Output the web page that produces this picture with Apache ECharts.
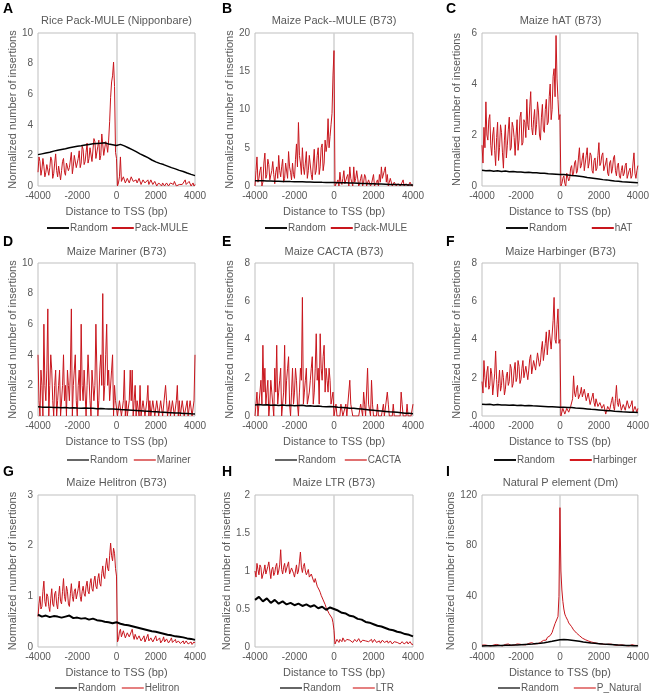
<!DOCTYPE html>
<html>
<head>
<meta charset="utf-8">
<script src="https://cdn.jsdelivr.net/npm/echarts@6/dist/echarts.min.js"></script>
<style>html,body{margin:0;padding:0;background:#fff}#c{width:652px;height:696px}</style>
</head>
<body>
<div id="c"></div>
<script>
// bin positions (bp), 50 bp bins for TE series, 200 bp for Random
const xRed = [
-4000,-3950,-3900,-3850,-3800,-3750,-3700,-3650,-3600,-3550,-3500,-3450,-3400,-3350,-3300,-3250,-3200,-3150,-3100,-3050,
-3000,-2950,-2900,-2850,-2800,-2750,-2700,-2650,-2600,-2550,-2500,-2450,-2400,-2350,-2300,-2250,-2200,-2150,-2100,-2050,
-2000,-1950,-1900,-1850,-1800,-1750,-1700,-1650,-1600,-1550,-1500,-1450,-1400,-1350,-1300,-1250,-1200,-1150,-1100,-1050,
-1000,-950,-900,-850,-800,-750,-700,-650,-600,-550,-500,-450,-400,-350,-300,-250,-200,-150,-100,-50,
0,50,100,150,200,250,300,350,400,450,500,550,600,650,700,750,800,850,900,950,
1000,1050,1100,1150,1200,1250,1300,1350,1400,1450,1500,1550,1600,1650,1700,1750,1800,1850,1900,1950,
2000,2050,2100,2150,2200,2250,2300,2350,2400,2450,2500,2550,2600,2650,2700,2750,2800,2850,2900,2950,
3000,3050,3100,3150,3200,3250,3300,3350,3400,3450,3500,3550,3600,3650,3700,3750,3800,3850,3900,3950,
4000];
const xBlack = [-4000,-3800,-3600,-3400,-3200,-3000,-2800,-2600,-2400,-2200,-2000,-1800,-1600,-1400,-1200,-1000,-800,-600,-400,-200,0,200,400,600,800,1000,1200,1400,1600,1800,2000,2200,2400,2600,2800,3000,3200,3400,3600,3800,4000];

// A Rice Pack-MULE (Nipponbare)
const redA = [
0.9,1.9,1.6,0.7,1.1,1.8,1.3,0.6,0.9,1.4, 1.5,0.7,1.2,1.9,1.7,0.5,0.8,1.5,2.1,1.0,
0.6,1.3,1.4,0.4,1.0,1.6,1.8,0.9,0.7,1.5, 1.6,1.0,1.2,1.7,2.2,0.8,1.3,2.0,1.9,1.2,
1.1,1.8,2.3,1.2,1.5,2.6,2.4,1.4,1.6,2.2, 2.8,1.5,1.8,2.5,2.6,1.6,1.7,3.1,2.9,1.8,
1.9,2.6,3.0,1.7,2.0,3.4,3.5,2.0,2.1,2.9, 2.7,2.2,3.0,4.2,5.8,6.8,7.2,8.1,6.5,2.2,
1.8,0.0,0.2,0.6,1.9,0.3,0.3,0.6,0.5,0.2, 0.2,0.5,0.5,0.2,0.3,0.6,0.5,0.3,0.2,0.4,
0.4,0.2,0.3,0.5,0.5,0.1,0.2,0.4,0.4,0.2, 0.1,0.3,0.4,0.1,0.2,0.4,0.3,0.1,0.1,0.3,
0.2,0.0,0.1,0.2,0.3,0.1,0.0,0.2,0.2,0.0, 0.1,0.2,0.3,0.0,0.0,0.2,0.2,0.1,0.1,0.3,
0.2,0.0,0.0,0.1,0.1,0.0,0.2,0.1,0.0,0.2, 0.4,0.1,0.1,0.0,0.3,0.2,0.0,0.1,0.2,0.0,
0.1];
const blackA = [2.05,2.1,2.15,2.2,2.28,2.33,2.38,2.43,2.5,2.55, 2.6,2.63,2.68,2.72,2.76,2.78,2.8,2.82,2.75,2.7, 2.65,
  2.72,2.62,2.5,2.38,2.25,2.1,1.98,1.85,1.7,1.58, 1.48,1.4,1.3,1.2,1.12,1.02,0.95,0.85,0.76,0.68];

// B Maize Pack-MULE
const redB = [
0,2.0,3.8,0.5,1.0,2.0,2.5,0.0,0.5,3.0, 4.3,1.0,1.5,3.5,2.8,0.8,1.0,2.0,3.2,1.5,
0.3,1.8,2.5,1.0,4.0,2.0,1.2,2.5,3.5,0.5, 1.0,3.0,2.8,1.0,4.5,2.5,1.8,0.8,3.0,1.5,
1.0,3.5,5.5,2.5,8.3,4.0,3.0,1.5,5.0,2.5, 1.5,3.0,4.5,1.0,2.0,4.0,3.8,1.5,0.8,3.0,
4.8,1.5,2.0,4.0,5.0,1.5,2.5,5.0,5.5,2.0, 3.0,6.0,4.5,5.5,8.8,5.0,6.5,8.0,9.5,14.5,
17.7,0.0,0.0,0.5,0.8,0.0,1.8,0.5,0.2,1.0, 2.0,0.3,0.5,1.2,1.5,0.0,2.5,1.0,0.8,0.0,
2.5,0.5,1.0,2.0,2.0,0.0,0.3,1.0,1.5,0.0, 0.5,1.5,1.2,0.0,0.0,0.8,1.0,0.0,0.3,0.5,
1.5,0.0,0.0,0.5,0.8,0.0,1.5,0.5,2.5,1.0, 1.0,2.0,2.5,0.5,1.5,0.0,0.5,1.0,1.2,0.0,
0.0,0.5,0.5,0.0,0.0,0.3,0.5,0.0,0.0,0.5, 0.8,0.0,0.0,0.3,0.5,0.0,0.0,0.5,0.3,0.0,
0.0];
const blackB = [0.7,0.7,0.68,0.66,0.65,0.63,0.62,0.6,0.6,0.58, 0.57,0.55,0.55,0.53,0.52,0.5,0.5,0.48,0.47,0.46, 0.45,
  0.44,0.43,0.42,0.4,0.38,0.36,0.34,0.32,0.3,0.28, 0.26,0.25,0.23,0.21,0.2,0.18,0.16,0.15,0.13,0.12];

// C Maize hAT
const redC = [
1.6,0.9,2.3,1.5,3.3,2.0,1.8,2.6,2.8,1.6, 1.2,2.0,2.3,1.4,0.8,1.9,2.5,1.0,1.5,2.4,
2.1,1.3,0.7,1.8,2.4,1.1,1.6,2.2,2.7,1.4, 1.5,2.5,2.3,1.9,1.2,2.0,2.6,1.4,1.8,2.7,
2.9,1.6,1.7,2.6,2.5,1.9,3.4,2.4,2.2,3.1, 3.7,2.3,2.0,2.6,3.0,2.0,2.4,3.3,2.9,2.0,
1.8,2.7,3.2,2.2,2.1,3.0,3.4,2.4,2.5,3.5, 4.0,2.6,3.0,4.3,4.6,3.5,5.9,4.2,3.4,2.6,
2.8,0.0,0.1,0.3,0.4,0.1,0.0,0.5,0.5,0.2, 0.3,0.7,0.8,0.4,0.5,0.9,1.0,0.5,0.6,1.1,
1.5,0.7,0.8,1.1,1.3,0.6,0.6,1.2,1.5,0.7, 0.9,1.3,1.2,0.6,0.5,1.0,1.1,0.6,0.7,1.2,
1.7,0.8,0.9,1.2,1.3,0.6,0.6,0.9,1.1,0.5, 0.4,0.9,1.0,0.5,0.7,1.1,1.2,0.6,0.4,0.8,
0.9,0.4,0.3,0.6,0.8,0.4,0.5,0.8,0.9,0.3, 0.3,0.6,0.7,0.3,0.4,0.9,1.3,0.5,0.3,0.6,
0.8];
const blackC = [0.62,0.6,0.61,0.58,0.6,0.57,0.59,0.56,0.57,0.55, 0.55,0.53,0.54,0.52,0.52,0.5,0.5,0.48,0.47,0.46, 0.45,
  0.45,0.43,0.41,0.4,0.38,0.36,0.33,0.31,0.29,0.27, 0.25,0.24,0.22,0.2,0.19,0.17,0.16,0.15,0.14,0.13];

// D Maize Mariner
const redD = [
4,1,0,3,2,0,6,2,1,3, 7,0,2,4,3,1,0,2,3,0,
1,2,3,0,0,2,4,1,2,0, 3,2,1,3,7,0,2,3,4,1,
0,2,3,1,6,2,1,3,3,0, 2,4,4,1,0,3,3,1,2,6,
6,0,1,3,4,2,8,1,2,4, 6,2,3,1,1,3,4,0,2,1,
1,0,0,1,1,0,0,1,3,0, 1,0,0,1,3,1,3,0,1,2,
0,1,1,0,2,0,0,1,1,0, 0,1,2,0,1,0,0,1,1,0,
0,1,1,0,0,1,1,0,0,0, 2,1,0,0,1,0,0,1,1,0,
0,1,2,0,1,0,0,1,1,0, 0,0,1,0,0,1,1,0,0,1,
4];
const blackD = [0.6,0.58,0.57,0.58,0.55,0.56,0.54,0.55,0.53,0.54, 0.52,0.51,0.52,0.5,0.5,0.48,0.49,0.47,0.46,0.45, 0.44,
  0.42,0.41,0.4,0.38,0.36,0.34,0.32,0.31,0.29,0.28, 0.26,0.25,0.23,0.22,0.2,0.19,0.17,0.16,0.14,0.13];

// E Maize CACTA
const redE = [
0,0.62,1.25,0,0.62,1.25,1.87,0.62,3.7,1.25, 2.5,0.62,1.25,1.87,0,0.62,1.87,1.25,0.62,0,
2.5,1.25,3.7,0.62,1.25,1.87,2.5,0,0.62,1.25, 3.7,0.62,1.87,2.5,3.1,0.62,0,1.25,2.5,0.62,
1.25,2.5,1.87,0.62,0,1.25,2.5,1.87,6.2,0.62, 1.25,1.87,2.5,0.62,0.62,1.25,1.87,2.5,3.1,0.62,
1.25,2.5,4.3,1.87,2.5,0.62,4.3,2.5,1.87,3.1, 3.7,1.25,2.5,1.87,1.25,2.5,1.87,0.62,0.62,1.25,
0,0,0.62,0,0,0,0,0.62,0.62,0, 0,0,0.62,0,0,0,1.87,0.62,0.62,0,
0,0,0,0,0,0,0,0.62,0.62,0, 1.25,0.62,0,0,2.5,0.62,0.62,0,1.87,0.62,
0,0,0,0,0.62,0,0,0,0,0, 0.62,0,0,0,1.25,0.62,0,0,0,0,
0.62,0,0,0,0,0,0,0,1.25,0.62, 0,0,0,0,0.62,0,0,0,0,0,
0.62];
const blackE = [0.58,0.6,0.57,0.59,0.56,0.58,0.55,0.57,0.55,0.56, 0.54,0.55,0.56,0.52,0.53,0.51,0.52,0.5,0.49,0.5, 0.48,
  0.46,0.45,0.43,0.41,0.4,0.38,0.36,0.34,0.32,0.3, 0.28,0.26,0.24,0.22,0.21,0.19,0.17,0.15,0.14,0.12];

// F Maize Harbinger
const redF = [
1.8,1.2,2.9,2.0,1.5,2.3,2.6,1.4,1.6,2.5, 2.2,1.1,1.2,2.2,3.4,1.9,1.0,1.7,2.4,1.3,
1.6,2.4,2.0,1.1,1.4,2.1,2.3,1.6,1.8,2.7, 2.5,1.5,1.7,2.4,2.8,1.8,2.0,2.9,2.6,1.7,
1.9,2.5,2.9,2.0,2.1,2.6,2.7,1.9,2.4,3.0, 3.2,2.2,2.3,2.9,3.0,2.4,2.5,3.3,3.4,2.6,
2.8,3.5,3.9,2.9,3.0,3.8,4.4,3.2,3.3,4.5, 4.6,3.5,3.6,5.0,6.2,4.0,3.8,4.8,5.6,3.8,
4.0,0.0,0.1,0.4,0.3,0.1,0.1,0.4,0.5,0.2, 0.3,0.5,0.6,0.9,2.1,1.2,1.0,1.4,1.6,0.9,
0.8,1.2,1.5,1.0,0.9,1.4,1.3,0.8,0.7,1.2, 1.1,0.6,0.6,1.0,1.2,0.7,0.5,0.9,1.0,0.5,
0.4,0.7,0.8,0.4,0.3,0.6,0.7,0.1,0.2,0.5, 0.6,0.3,0.4,0.8,1.0,0.5,0.3,0.9,1.6,0.7,
0.5,0.9,0.8,0.3,0.2,0.6,0.7,0.3,0.4,0.8, 0.9,0.4,0.3,0.6,0.8,0.2,0.2,0.5,0.6,0.2,
0.4];
const blackF = [0.62,0.6,0.61,0.58,0.6,0.57,0.58,0.56,0.57,0.55, 0.56,0.54,0.55,0.53,0.52,0.51,0.5,0.49,0.48,0.47, 0.46,
  0.46,0.45,0.44,0.42,0.41,0.39,0.37,0.35,0.34,0.32, 0.3,0.28,0.27,0.25,0.24,0.22,0.21,0.2,0.19,0.18];

// G Maize Helitron
const redG = [
0.6,0.85,1.0,0.75,0.8,1.1,1.3,0.9,0.8,1.05, 1.0,0.8,0.7,0.95,1.15,0.85,0.8,1.05,1.1,0.85,
0.75,1.0,1.2,0.9,0.85,1.1,1.35,1.0,0.9,1.2, 1.1,0.85,0.8,1.05,1.25,1.0,0.9,1.1,1.15,0.95,
0.95,1.15,1.3,1.0,0.9,1.1,1.2,1.05,1.0,1.2, 1.3,1.1,1.05,1.25,1.35,1.15,1.1,1.3,1.4,1.2,
1.15,1.35,1.45,1.25,1.2,1.45,1.6,1.4,1.35,1.6, 1.75,1.55,1.5,1.8,2.05,1.8,1.7,1.95,1.85,1.55,
1.4,0.1,0.15,0.3,0.35,0.2,0.2,0.32,0.3,0.18, 0.15,0.28,0.3,0.2,0.2,0.3,0.35,0.22,0.15,0.25,
0.28,0.15,0.12,0.22,0.25,0.12,0.1,0.18,0.22,0.1, 0.12,0.2,0.25,0.12,0.1,0.18,0.2,0.1,0.08,0.18,
0.22,0.12,0.1,0.15,0.18,0.08,0.07,0.14,0.2,0.1, 0.1,0.16,0.15,0.08,0.08,0.14,0.18,0.09,0.06,0.12,
0.15,0.08,0.1,0.12,0.13,0.07,0.05,0.1,0.12,0.06, 0.08,0.12,0.14,0.06,0.04,0.08,0.1,0.05,0.06,0.1,
0.08];
const blackG = [0.64,0.6,0.62,0.59,0.61,0.6,0.58,0.6,0.62,0.57, 0.58,0.56,0.57,0.54,0.56,0.53,0.52,0.5,0.49,0.47, 0.49,
  0.46,0.44,0.43,0.41,0.39,0.37,0.35,0.33,0.31,0.3, 0.28,0.26,0.24,0.23,0.21,0.2,0.19,0.17,0.16,0.14];

// H Maize LTR
const redH = [
1.0,0.92,1.1,1.02,0.95,1.08,1.05,0.9,0.88,1.0, 1.08,0.96,0.95,1.06,1.12,1.0,0.9,1.02,1.05,0.94,
0.98,1.06,1.1,0.95,1.0,1.08,1.28,1.02,0.96,1.05, 1.1,0.98,0.98,1.08,1.12,0.96,0.95,1.04,1.05,0.97,
0.92,1.0,1.08,0.96,1.0,1.12,1.25,1.05,0.98,1.06, 1.1,1.0,0.95,0.98,1.02,0.92,0.9,0.96,0.95,0.88,
0.85,0.9,0.88,0.8,0.78,0.75,0.72,0.68,0.66,0.62, 0.6,0.56,0.52,0.54,0.5,0.44,0.42,0.44,0.38,0.32,
0.22,0.04,0.05,0.1,0.08,0.06,0.1,0.08,0.07,0.12, 0.11,0.07,0.08,0.1,0.12,0.08,0.09,0.11,0.1,0.06,
0.07,0.1,0.12,0.07,0.08,0.11,0.1,0.06,0.07,0.09, 0.11,0.07,0.08,0.1,0.09,0.07,0.06,0.08,0.1,0.06,
0.07,0.1,0.09,0.06,0.05,0.08,0.08,0.05,0.06,0.09, 0.09,0.06,0.05,0.07,0.08,0.05,0.06,0.08,0.07,0.04,
0.05,0.07,0.08,0.05,0.06,0.08,0.07,0.04,0.05,0.07, 0.06,0.04,0.04,0.06,0.07,0.04,0.05,0.07,0.06,0.03,
0.04];
const blackH = [0.62,0.66,0.6,0.64,0.58,0.62,0.57,0.6,0.56,0.58, 0.55,0.57,0.54,0.56,0.53,0.55,0.51,0.53,0.49,0.52, 0.5,
  0.48,0.45,0.44,0.41,0.4,0.37,0.36,0.33,0.32,0.3, 0.28,0.27,0.25,0.23,0.22,0.2,0.19,0.17,0.16,0.14];

// I Natural P element (Dm)
const redI = [
1.5,1.0,0.8,1.6,2.0,1.1,1.2,1.9,1.8,0.8, 0.9,1.7,1.6,1.0,1.1,2.0,2.2,1.2,1.3,2.1,
1.7,0.9,1.0,1.8,2.0,1.2,1.4,2.4,2.3,1.1, 1.2,2.0,1.9,1.4,1.5,2.6,2.4,1.5,1.6,2.2,
2.1,1.6,1.8,2.7,2.6,1.7,2.0,3.0,2.8,2.0, 2.2,3.4,3.0,2.3,2.5,3.6,3.3,2.6,2.8,3.8,
3.6,3.2,4.0,5.2,4.8,4.6,5.5,7.5,7.0,6.8, 9.0,10.5,11.5,14.0,15.0,18.5,18.0,19.5,24.0,40.0,
110,60,45,36,30,26,24,25,21,19, 18,20,16,15,13.5,14,12,11,10.5,10,
9,8.5,7.5,7.0,6.5,6.2,5.8,5.0,5.0,4.8, 4.6,4.2,4.0,4.1,3.8,3.4,3.3,3.1,3.0,2.6,
2.8,2.5,3.1,2.2,2.4,2.6,2.6,1.9,2.1,2.4, 2.3,1.7,1.8,2.2,2.0,1.5,1.6,2.0,1.9,1.3,
1.4,1.8,1.7,1.0,1.2,1.5,1.6,1.1,1.1,1.6, 1.5,0.9,1.0,1.4,1.8,1.2,0.9,1.3,1.4,0.8,
1.2];
const blackI = [0.8,0.9,0.9,1.0,1.1,1.2,1.3,1.4,1.5,1.6, 1.8,2.0,2.2,2.4,2.7,3.0,3.4,3.9,4.5,5.2, 5.8,
  6.0,5.8,5.4,5.0,4.5,4.0,3.6,3.2,2.9,2.6, 2.3,2.1,1.9,1.7,1.5,1.4,1.2,1.1,1.0,0.9];

const letters = ['A','B','C','D','E','F','G','H','I'];
const titles = ['Rice Pack-MULE (Nipponbare)','Maize Pack--MULE (B73)','Maize hAT (B73)','Maize Mariner (B73)','Maize CACTA (B73)','Maize Harbinger (B73)','Maize Helitron (B73)','Maize LTR (B73)','Natural P element (Dm)'];
const teNames = ['Pack-MULE','Pack-MULE','hAT','Mariner','CACTA','Harbinger','Helitron','LTR','P_Natural'];
const yNames = ['Normalized number of insertions','Normalized number of insertions','Normalied number of insertions','Normalized number of insertions','Normalized number of insertions','Normalized number of insertions','Normalized number of insertions','Normalized number of insertions','Normalized number of insertions'];
const xTitle = 'Distance to TSS (bp)';
const yMax = [10,20,6,10,8,8,3,2,120];
const yStep = [2,5,2,2,2,2,1,0.5,40];
const reds = [redA,redB,redC,redD,redE,redF,redG,redH,redI];
const blacks = [blackA,blackB,blackC,blackD,blackE,blackF,blackG,blackH,blackI];

// layout (positions / styles)
const colL = [38,255,482], colW = [157,158,157];
const rowT = [33,263,495], rowH = [153,153,152];
const titleY = [21,252,483], letterY = [9,242,472];
const letterX = [3,222,446];
const legendTop = [223,455,683];
const legendLeft = [47,265,506,67,275,494,55,280,498];
const legendGap = [4,5,25,6,9,15,6,12,15];
const legRandomCol = ['#111','#111','#111','#666','#666','#111','#666','#666','#666'];
const legTeCol = ['#c8161d','#c8161d','#c8161d','#e07070','#e07070','#d41a1f','#e58080','#e58080','#e58080'];
const blackW = [1.5,1.5,1.5,1.5,1.5,1.5,2,2,1.5];
const FONT = 'Liberation Sans, Arial, sans-serif';
const GRAY = '#595959';
const RED = '#c8161d';

const grid=[], xAxis=[], yAxis=[], series=[], legend=[], graphic=[];
for (let i=0;i<9;i++){
  const c=i%3, r=Math.floor(i/3);
  grid.push({left:colL[c], top:rowT[r], width:colW[c], height:rowH[r], show:true, borderColor:'#bfbfbf', borderWidth:1, containLabel:false});
  xAxis.push({type:'value', gridIndex:i, min:-4000, max:4000, interval:2000,
    name:xTitle, nameLocation:'middle', nameGap:20,
    nameTextStyle:{fontSize:11, color:GRAY, fontFamily:FONT},
    axisLine:{show:false}, axisTick:{show:false}, splitLine:{show:false},
    axisLabel:{fontSize:10, color:GRAY, margin:5, fontFamily:FONT, formatter:v=>String(v)}});
  yAxis.push({type:'value', gridIndex:i, min:0, max:yMax[i], interval:yStep[i],
    name:yNames[i], nameLocation:'middle', nameGap:(i===8?21:20), nameRotate:90,
    nameTextStyle:{fontSize:11, color:GRAY, fontFamily:FONT},
    axisLine:{show:false}, axisTick:{show:false}, splitLine:{show:false},
    axisLabel:{fontSize:10, color:GRAY, margin:5, fontFamily:FONT, formatter:v=>String(v)}});
  series.push({type:'line', name:teNames[i], xAxisIndex:i, yAxisIndex:i, z:2,
    data:xRed.map((x,k)=>[x,reds[i][k]]), symbol:'none', showSymbol:false,
    lineStyle:{color:RED, width:1}, itemStyle:{color:RED},
    markLine:{silent:true, symbol:'none', z:1, label:{show:false},
      lineStyle:{color:'#d0d0d0', width:1.5, type:'solid'}, data:[{xAxis:0}]}});
  series.push({type:'line', name:'Random', xAxisIndex:i, yAxisIndex:i, z:3,
    data:xBlack.map((x,k)=>[x,blacks[i][k]]), symbol:'none', showSymbol:false,
    lineStyle:{color:'#000', width:blackW[i]}, itemStyle:{color:'#000'}});
  legend.push({left:legendLeft[i], top:legendTop[r], padding:0, orient:'horizontal', icon:'rect',
    itemWidth:22, itemHeight:2, itemGap:legendGap[i], selectedMode:false,
    textStyle:{fontSize:10, color:GRAY, fontFamily:FONT, padding:[0,0,0,-4]},
    data:[{name:'Random', itemStyle:{color:legRandomCol[i]}}, {name:teNames[i], itemStyle:{color:legTeCol[i]}}]});
  graphic.push({type:'text', x:colL[c]+colW[c]/2, y:titleY[r],
    style:{text:titles[i], fill:GRAY, font:'11px '+FONT, textAlign:'center', align:'center', textVerticalAlign:'middle', verticalAlign:'middle'}});
  graphic.push({type:'text', x:letterX[c], y:letterY[r],
    style:{text:letters[i], fill:'#000', font:'bold 14px '+FONT, textAlign:'left', align:'left', textVerticalAlign:'middle', verticalAlign:'middle'}});
}

const chart = echarts.init(document.getElementById('c'), null, {renderer:'canvas'});
chart.setOption({animation:false, backgroundColor:'#fff', textStyle:{fontFamily:FONT},
  grid, xAxis, yAxis, series, legend, graphic});
</script>
</body>
</html>
